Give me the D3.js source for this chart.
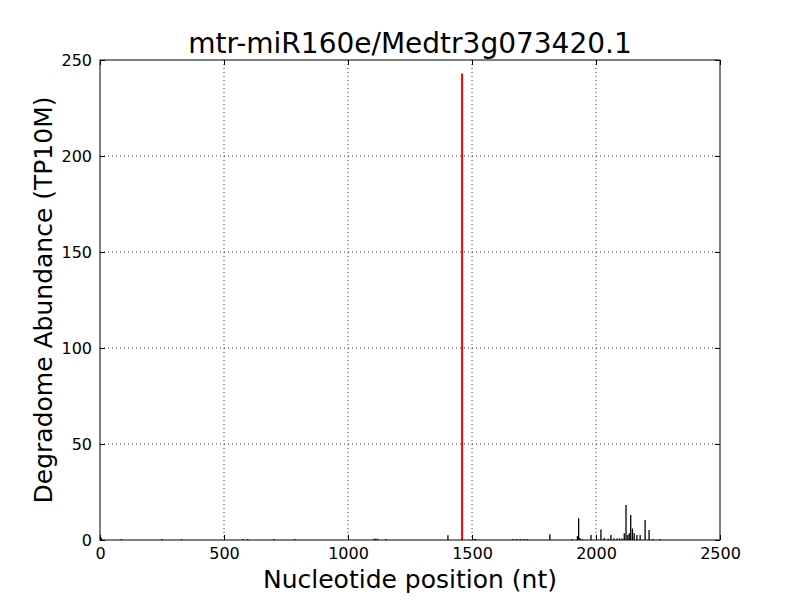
<!DOCTYPE html>
<html>
<head>
<meta charset="utf-8">
<script src="https://cdn.jsdelivr.net/npm/d3@7"></script>
<style>
  body { margin: 0; background: #fff; }
  svg { font-family: "DejaVu Sans", sans-serif; }
</style>
</head>
<body>
<div id="chart"></div>
<script>
// degradome reads along the transcript (nt position, TP10M)
const positions = [5, 87, 249, 329, 577, 596, 702, 786, 1105, 1112, 1120, 1153, 1403,
  1508, 1515, 1665, 1680, 1695, 1710, 1722, 1814, 1902, 1925, 1930, 1935, 1945, 1980,
  2020, 2033, 2049, 2060, 2072, 2085, 2095, 2105, 2114, 2121, 2128, 2134, 2140, 2147,
  2154, 2165, 2178, 2198, 2214, 2230, 2258];
const abundance = [1.2, 0.5, 0.5, 0.5, 0.5, 0.5, 0.5, 0.5, 0.7, 0.7, 0.7, 0.5, 2.5,
  0.5, 0.5, 0.5, 0.5, 0.5, 0.5, 0.5, 3, 0.5, 2, 11.3, 1, 0.5, 2.6,
  5.5, 1, 0.7, 2.6, 0.8, 0.8, 0.8, 0.8, 3.5, 18.2, 2.6, 3.5, 13, 6,
  3.5, 2.6, 2.6, 10.4, 5.2, 0.5, 0.5];
// predicted cleavage site
const sitePos = [1460];
const siteVal = [243];

const xTicks = [0, 500, 1000, 1500, 2000, 2500];
const yTicks = [0, 50, 100, 150, 200, 250];

const width = 800, height = 600;
const margin = { top: 60, left: 100, bottom: 60, right: 80 };
const iwidth = width - margin.left - margin.right;
const iheight = height - margin.top - margin.bottom;

const svg = d3.select("#chart").append("svg")
  .attr("width", width)
  .attr("height", height);

const g = svg.append("g").attr("transform", `translate(${margin.left},${margin.top})`);

const x = d3.scaleLinear().domain([0, 2500]).range([0, iwidth]);
const y = d3.scaleLinear().domain([0, 250]).range([iheight, 0]);

// grid
g.append("g").selectAll("line").data(xTicks.slice(1, -1)).enter().append("line")
  .attr("x1", d => x(d)).attr("x2", d => x(d))
  .attr("y1", 0).attr("y2", iheight)
  .attr("stroke", "#000").attr("stroke-width", 0.8).attr("stroke-dasharray", "1,3");
g.append("g").selectAll("line").data(yTicks.slice(1, -1)).enter().append("line")
  .attr("x1", 0).attr("x2", iwidth)
  .attr("y1", d => y(d)).attr("y2", d => y(d))
  .attr("stroke", "#000").attr("stroke-width", 0.8).attr("stroke-dasharray", "1,3");

// bars
const reads = positions.map((p, i) => ({ p: p, v: abundance[i] }));
g.append("g").selectAll("line").data(reads).enter().append("line")
  .attr("x1", d => x(d.p)).attr("x2", d => x(d.p))
  .attr("y1", iheight).attr("y2", d => y(d.v))
  .attr("stroke", "#000").attr("stroke-width", 1.3);

g.append("g").selectAll("line").data(sitePos).enter().append("line")
  .attr("x1", d => x(d)).attr("x2", d => x(d))
  .attr("y1", iheight).attr("y2", (d, i) => y(siteVal[i]))
  .attr("stroke", "#ff0000").attr("stroke-width", 2);

// axes, ticks inside on all sides
const tl = 5;
const fmt = d3.format("d");
const xb = g.append("g").attr("transform", `translate(0,${iheight})`)
  .call(d3.axisBottom(x).tickValues(xTicks).tickFormat(fmt).tickSizeInner(-tl).tickSizeOuter(0).tickPadding(8));
const xt = g.append("g")
  .call(d3.axisTop(x).tickValues(xTicks).tickSizeInner(-tl).tickSizeOuter(0).tickFormat(""));
const yl = g.append("g")
  .call(d3.axisLeft(y).tickValues(yTicks).tickFormat(fmt).tickSizeInner(-tl).tickSizeOuter(0).tickPadding(8));
const yr = g.append("g").attr("transform", `translate(${iwidth},0)`)
  .call(d3.axisRight(y).tickValues(yTicks).tickSizeInner(-tl).tickSizeOuter(0).tickFormat(""));

[xb, xt, yl, yr].forEach(a => {
  a.select(".domain").remove();
  a.selectAll("line").attr("stroke", "#000");
  a.selectAll("text").attr("fill", "#000").style("font-size", "16px")
    .style("font-family", "DejaVu Sans, sans-serif");
});

g.append("rect")
  .attr("width", iwidth).attr("height", iheight)
  .attr("fill", "none").attr("stroke", "#000").attr("stroke-width", 1);

// labels
svg.append("text")
  .attr("x", margin.left + iwidth / 2).attr("y", 53)
  .attr("text-anchor", "middle")
  .style("font-size", "28px")
  .text("mtr-miR160e/Medtr3g073420.1");

svg.append("text")
  .attr("x", margin.left + iwidth / 2).attr("y", 588)
  .attr("text-anchor", "middle")
  .style("font-size", "25px")
  .text("Nucleotide position (nt)");

svg.append("text")
  .attr("transform", `translate(52,${margin.top + iheight / 2}) rotate(-90)`)
  .attr("text-anchor", "middle")
  .style("font-size", "25px")
  .text("Degradome Abundance (TP10M)");
</script>
</body>
</html>
